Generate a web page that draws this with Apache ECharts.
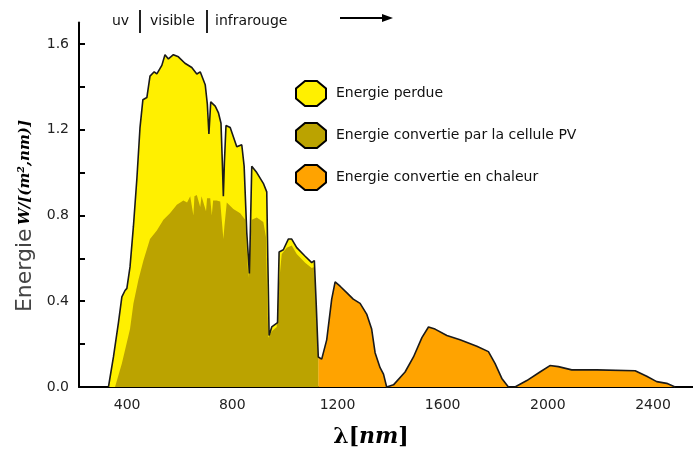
<!DOCTYPE html>
<html><head><meta charset="utf-8">
<script src="https://cdn.jsdelivr.net/npm/echarts@6/dist/echarts.min.js"></script>
<style>html,body{margin:0;padding:0;background:#fff}#c{width:693px;height:452px}</style>
</head><body><div id="c"></div>
<script>
// Total solar spectrum (outer envelope), wavelength in nm
const wavelengths = [329,348,367,380,392,399,411,424,437,449,460,475,487,503,513,532,544,557,576,595,620,646,665,678,697,705,711,718,735,747,757,762,766,770,776,792,817,836,845,855,865,870,874,893,918,931,935,940,950,972,978,994,1013,1026,1045,1077,1102,1112,1119,1127,1140,1159,1178,1191,1210,1235,1260,1286,1311,1330,1343,1362,1375,1387,1413,1457,1489,1521,1546,1571,1616,1666,1730,1774,1799,1825,1850,1875,1920,1970,2008,2040,2091,2186,2332,2376,2414,2452,2484];
const totalEnergy = [0,0.14,0.30,0.42,0.45,0.46,0.56,0.75,0.97,1.21,1.34,1.35,1.45,1.47,1.46,1.50,1.55,1.53,1.55,1.54,1.51,1.49,1.46,1.47,1.41,1.32,1.18,1.33,1.31,1.28,1.23,1.05,0.89,1.05,1.22,1.21,1.12,1.13,1.03,0.72,0.53,0.80,1.03,1.00,0.95,0.91,0.60,0.24,0.28,0.30,0.63,0.64,0.69,0.69,0.65,0.61,0.58,0.59,0.39,0.14,0.13,0.22,0.41,0.49,0.47,0.44,0.41,0.39,0.34,0.27,0.16,0.09,0.06,0,0.01,0.07,0.14,0.23,0.28,0.27,0.24,0.22,0.19,0.165,0.11,0.04,0,0,0.03,0.07,0.10,0.095,0.08,0.08,0.076,0.05,0.025,0.017,0];
// Part converted by the PV cell
const pvWavelengths = [354,380,411,424,443,462,487,513,538,563,589,614,628,640,652,656,665,678,683,690,700,704,716,722,727,740,754,762,766,770,779,804,830,849,855,861,867,874,893,918,928,933,937,950,969,975,988,1007,1026,1045,1077,1102,1112,1119,1127];
const pvEnergy = [0,0.11,0.27,0.39,0.50,0.59,0.69,0.73,0.78,0.81,0.85,0.87,0.86,0.89,0.80,0.89,0.895,0.84,0.89,0.89,0.82,0.88,0.88,0.80,0.87,0.87,0.865,0.75,0.69,0.75,0.86,0.83,0.81,0.78,0.65,0.51,0.65,0.78,0.79,0.77,0.70,0.40,0.23,0.26,0.28,0.45,0.62,0.65,0.66,0.62,0.58,0.555,0.56,0.37,0.13];
const cutoffNm = 1127;
const seriesNames = ['Energie perdue','Energie convertie par la cellule PV','Energie convertie en chaleur'];
const xTickLabels = [400,800,1200,1600,2000,2400];
const yTickLabels = [0,0.4,0.8,1.2,1.6];
const yTicks = [0,0.2,0.4,0.6,0.8,1.0,1.2,1.4,1.6];
const bandLabels = ['uv','visible','infrarouge'];

const colors = {lost:'#FFF000', pv:'#BBA300', heat:'#FFA300'};
const totalPairs = wavelengths.map((w,i)=>[w,totalEnergy[i]]);
const lostPairs = totalPairs.filter(p=>p[0]<=cutoffNm);
const heatPairs = totalPairs.filter(p=>p[0]>=cutoffNm);
const pvPairs = pvWavelengths.map((w,i)=>[w,pvEnergy[i]]);

const font = 'DejaVu Sans';
const icon = 'path://M30,0 L70,0 L100,30 L100,70 L70,100 L30,100 L0,70 L0,30 Z';
const chart = echarts.init(document.getElementById('c'), null, {renderer:'canvas'});
const areaSeries = (name, data, color, z) => ({
  name, type:'line', data, showSymbol:false, symbol:'none', z,
  itemStyle:{color}, lineStyle:{width:0, color}, areaStyle:{color, opacity:1}, silent:true, animation:false
});
chart.setOption({
  animation:false,
  backgroundColor:'#fff',
  grid:{left:79, right:0, top:22.5, bottom:65, containLabel:false},
  xAxis:{type:'value', min:217, max:2552,
    axisLine:{lineStyle:{color:'#000', width:2}},
    axisTick:{show:false}, splitLine:{show:false},
    axisLabel:{customValues:xTickLabels, color:'#222', fontFamily:font, fontSize:14, margin:11, formatter:v=>String(v)}},
  yAxis:{type:'value', min:0, max:1.7,
    axisLine:{show:true, lineStyle:{color:'#000', width:2}},
    axisTick:{show:true, inside:true, length:6, customValues:yTicks, lineStyle:{color:'#000', width:2}},
    splitLine:{show:false},
    axisLabel:{customValues:yTickLabels, color:'#222', fontFamily:font, fontSize:14, margin:10, formatter:v=>v.toFixed(1)}},
  legend:{orient:'vertical', left:295, top:80, padding:0, itemWidth:30, itemHeight:25, itemGap:15, icon, symbolKeepAspect:false,
    textStyle:{fontFamily:font, fontSize:14, color:'#111', padding:[0,0,0,5]},
    data:[
      {name:seriesNames[0], itemStyle:{color:colors.lost, borderColor:'#000', borderWidth:2}},
      {name:seriesNames[1], itemStyle:{color:colors.pv, borderColor:'#000', borderWidth:2}},
      {name:seriesNames[2], itemStyle:{color:colors.heat, borderColor:'#000', borderWidth:2}}
    ], selectedMode:false},
  series:[
    areaSeries(seriesNames[0], lostPairs, colors.lost, 1),
    areaSeries(seriesNames[1], pvPairs, colors.pv, 2),
    areaSeries(seriesNames[2], heatPairs, colors.heat, 1),
    {name:'outline', type:'line', data:totalPairs, showSymbol:false, symbol:'none', z:3,
      lineStyle:{color:'#1a1a1a', width:1.6}, silent:true}
  ],
  graphic:[
    {type:'text', x:112, y:21, style:{text:bandLabels[0], fontFamily:font, fontSize:14, fill:'#111', align:'left', verticalAlign:'middle'}},
    {type:'line', shape:{x1:140,y1:10,x2:140,y2:33}, style:{stroke:'#222', lineWidth:2}},
    {type:'text', x:150, y:21, style:{text:bandLabels[1], fontFamily:font, fontSize:14, fill:'#111', align:'left', verticalAlign:'middle'}},
    {type:'line', shape:{x1:207,y1:10,x2:207,y2:33}, style:{stroke:'#222', lineWidth:2}},
    {type:'text', x:215, y:21, style:{text:bandLabels[2], fontFamily:font, fontSize:14, fill:'#111', align:'left', verticalAlign:'middle'}},
    {type:'line', shape:{x1:340,y1:18,x2:386,y2:18}, style:{stroke:'#000', lineWidth:2}},
    {type:'polygon', shape:{points:[[382,14],[393,18],[382,22]]}, style:{fill:'#000'}},
    {type:'text', x:25, y:216, rotation:Math.PI/2, style:{
      text:'{a|Energie} {b|W/[(m²,nm)]}', align:'center', verticalAlign:'middle',
      rich:{a:{fontFamily:font, fontSize:22, fill:'#444'}, b:{fontFamily:'DejaVu Serif', fontSize:15, fontWeight:'bold', fontStyle:'italic', fill:'#000'}}}},
    {type:'text', x:371, y:437, style:{
      text:'{a|λ[}{b|nm}{a|]}', align:'center', verticalAlign:'middle',
      rich:{a:{fontFamily:'DejaVu Serif', fontSize:22, fontWeight:'bold', fill:'#000'}, b:{fontFamily:'DejaVu Serif', fontSize:22, fontWeight:'bold', fontStyle:'italic', fill:'#000'}}}}
  ]
});
</script>
</body></html>
